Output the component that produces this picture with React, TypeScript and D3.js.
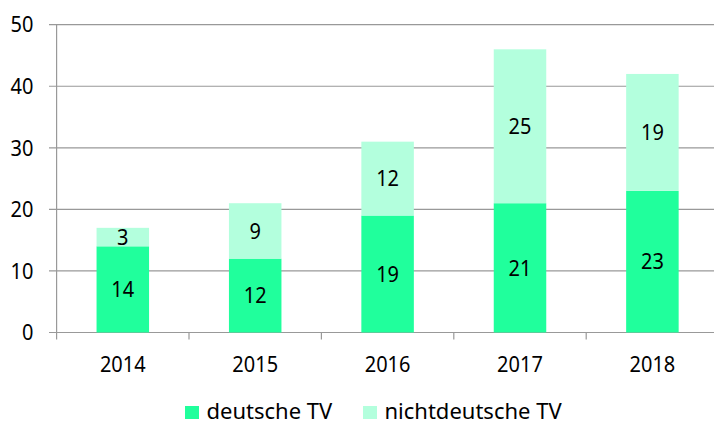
import React from "react";
import * as d3 from "d3";

const categories = ["2014", "2015", "2016", "2017", "2018"];
const deutsche = [14, 12, 19, 21, 23];
const nichtdeutsche = [3, 9, 12, 25, 19];
const seriesNames = ["deutsche TV", "nichtdeutsche TV"];
const yTicks = [0, 10, 20, 30, 40, 50];

const colors = ["#20FF9C", "#B3FFDD"];
const font = "'Noto Sans', 'Open Sans', sans-serif";

export default function App() {
  const W = 714, H = 421;
  const x0 = 56.6, band = 132.4;
  const y = d3.scaleLinear().domain([0, 50]).range([332.5, 24.7]);
  const barW = 52.5;
  const stack = d3.stack<any>().keys(["d", "n"])(categories.map((c, i) => ({ c, d: deutsche[i], n: nichtdeutsche[i] })));
  const x = d3.scalePoint<string>().domain(categories).range([x0 + band / 2, x0 + band * (categories.length - 0.5)]);
  const cx = (c: string) => x(c) as number;
  const fs = 21.5;

  return (
    <svg width={W} height={H} style={{ position: "absolute", left: 0, top: 0 }}>
      <rect width={W} height={H} fill="#fff" />
      {yTicks.map((t) => (
        <g key={t}>
          <line x1={49} x2={W} y1={y(t)} y2={y(t)} stroke="#999" strokeWidth={1.2} />
          <text x={33.5} y={y(t)} dy="0.36em" textAnchor="end" fontFamily={font} fontSize={fs} fill="#000" transform={`translate(${33.5},0) scale(0.93,1) translate(${-33.5},0)`}>{t}</text>
        </g>
      ))}
      <line x1={x0} x2={x0} y1={y(50)} y2={y(0)} stroke="#999" strokeWidth={1.2} />
      {d3.range(categories.length + 1).map((i) => (
        <line key={i} x1={x0 + band * i} x2={x0 + band * i} y1={y(0)} y2={y(0) + 7} stroke="#999" strokeWidth={1.2} />
      ))}
      {stack.map((s, si) => (
        <g key={si}>
          {s.map((d: any, i: number) => {
            const c = categories[i];
            const mx = cx(c);
            return (
              <g key={c}>
                <rect x={mx - barW / 2} width={barW} y={y(d[1])} height={y(d[0]) - y(d[1])} fill={colors[si]} />
                <text x={mx} y={(y(d[0]) + y(d[1])) / 2} dy="0.36em" textAnchor="middle" fontFamily={font} fontSize={fs} fill="#000" transform={`translate(${mx},0) scale(0.93,1) translate(${-mx},0)`}>
                  {d[1] - d[0]}
                </text>
              </g>
            );
          })}
        </g>
      ))}
      {categories.map((c) => (
        <text key={c} x={cx(c)} y={372} textAnchor="middle" fontFamily={font} fontSize={fs} fill="#000" transform={`translate(${cx(c)},0) scale(0.93,1) translate(${-cx(c)},0)`}>{c}</text>
      ))}
      {seriesNames.map((n, i) => {
        const lx = [185, 363][i];
        return (
          <g key={n}>
            <rect x={lx} y={406} width={14} height={13} fill={colors[i]} />
            <text x={lx + 21.5} y={419} fontFamily={font} fontSize={22} fill="#000">{n}</text>
          </g>
        );
      })}
    </svg>
  );
}
